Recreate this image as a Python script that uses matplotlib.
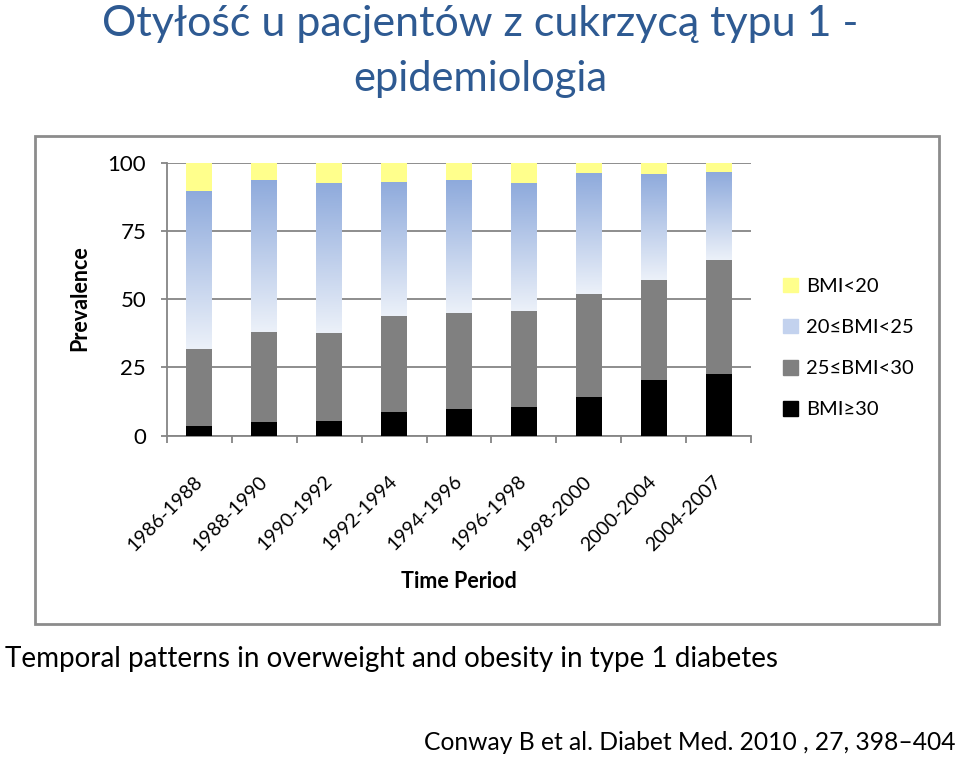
import numpy as np
import matplotlib
matplotlib.use("Agg")
from matplotlib import pyplot as plt
from matplotlib.patches import Rectangle, Patch

plt.rcParams['font.family'] = ['Lato', 'DejaVu Sans']

periods = ['1986-1988', '1988-1990', '1990-1992', '1992-1994', '1994-1996',
           '1996-1998', '1998-2000', '2000-2004', '2004-2007']
# cumulative tops of each band (%)
obese_top = [3.5, 5.0, 5.3, 8.5, 9.6, 10.6, 14.3, 20.3, 22.5]        # BMI>=30
overweight_top = [31.7, 37.9, 37.4, 43.7, 44.9, 45.7, 51.8, 56.9, 64.5]  # 25<=BMI<30
normal_top = [89.6, 93.8, 92.7, 92.9, 93.5, 92.4, 96.1, 95.8, 96.7]   # 20<=BMI<25
total = [100] * 9                                                      # BMI<20

labels = ['BMI<20', '20≤BMI<25', '25≤BMI<30', 'BMI≥30']

fig = plt.figure(figsize=(9.6, 7.57), dpi=100)

title_col = '#2E5A92'
fig.text(0.5, 1 - 24 / 757, 'Otyłość u pacjentów z cukrzycą typu 1 -', ha='center', va='center',
         fontsize=31, color=title_col)
fig.text(0.5, 1 - 79 / 757, 'epidemiologia', ha='center', va='center', fontsize=30, color=title_col)

# frame of the pasted chart
fig.patches.append(Rectangle((35 / 960, 1 - 624 / 757), 904 / 960, 488 / 757, transform=fig.transFigure,
                             fill=False, edgecolor='#8c8c8c', linewidth=2))

ax = fig.add_axes([167 / 960, 1 - 435.6 / 757, 584 / 960, 273 / 757])
x = np.arange(len(periods))
w = 0.4

obese = np.array(obese_top)
over = np.array(overweight_top) - obese
normal = np.array(normal_top) - np.array(overweight_top)
under = np.array(total) - np.array(normal_top)

ax.bar(x, obese, w, color='black', zorder=3)
ax.bar(x, over, w, bottom=obese, color='#808080', zorder=3)
blue_bars = ax.bar(x, normal, w, bottom=overweight_top, color='none', zorder=3)
ax.bar(x, under, w, bottom=normal_top, color='#FFFF8C', zorder=3)

top_c = np.array([0x8E, 0xAA, 0xDC]) / 255
bot_c = np.array([0xEC, 0xF1, 0xF9]) / 255
t = np.linspace(0, 1, 256)[:, None]
grad = (top_c * (1 - t) + bot_c * t).reshape(256, 1, 3)
for b in blue_bars:
    im = ax.imshow(grad, extent=(b.get_x(), b.get_x() + b.get_width(), b.get_y(), b.get_y() + b.get_height()),
                   aspect='auto', origin='upper', zorder=3)
    im.set_clip_path(b)

ax.set_xlim(-0.5, len(periods) - 0.5)
ax.set_ylim(0, 100)
ax.set_yticks([0, 25, 50, 75, 100])
ax.set_yticklabels(['0', '25', '50', '75', '100'], fontsize=16)
ax.yaxis.grid(True, color='#858585', linewidth=1.3, zorder=0)
ax.set_axisbelow(True)

ax.set_xticks(x)
ax.set_xticklabels(periods, rotation=45, ha='right', va='center', rotation_mode='anchor', fontsize=14)
ax.set_xticks(np.arange(-0.5, len(periods)), minor=True)
ax.tick_params(axis='x', which='major', length=0, pad=31)
ax.tick_params(axis='x', which='minor', length=5, color='#858585', width=1.3)
ax.tick_params(axis='y', length=4, color='#858585', width=1.3, pad=11)

for s in ['top', 'right']:
    ax.spines[s].set_visible(False)
for s in ['left', 'bottom']:
    ax.spines[s].set_color('#858585')
    ax.spines[s].set_linewidth(1.3)

fig.text(80 / 960, 1 - 298 / 757, 'Prevalence', rotation=90, ha='center', va='center',
         fontsize=15.5, fontweight='bold')
fig.text(459 / 960, 1 - 582 / 757, 'Time Period', ha='center', va='center', fontsize=15.5, fontweight='bold')

handles = [Patch(color='#FFFF8C'), Patch(color='#C3D2EE'), Patch(color='#808080'), Patch(color='black')]
fig.legend(handles, labels, loc='center left', bbox_to_anchor=(765 / 960, 1 - 348 / 757), frameon=False,
           fontsize=14.5, handlelength=0.75, handleheight=0.75, handletextpad=0.4, labelspacing=1.18)

fig.text(5 / 960, 1 - 659 / 757, 'Temporal patterns in overweight and obesity in type 1 diabetes',
         ha='left', va='center', fontsize=20)
fig.text(955 / 960, 1 - 743 / 757, 'Conway B et al. Diabet Med. 2010 , 27, 398–404',
         ha='right', va='center', fontsize=17.7)

fig.savefig('out.png', dpi=100)
